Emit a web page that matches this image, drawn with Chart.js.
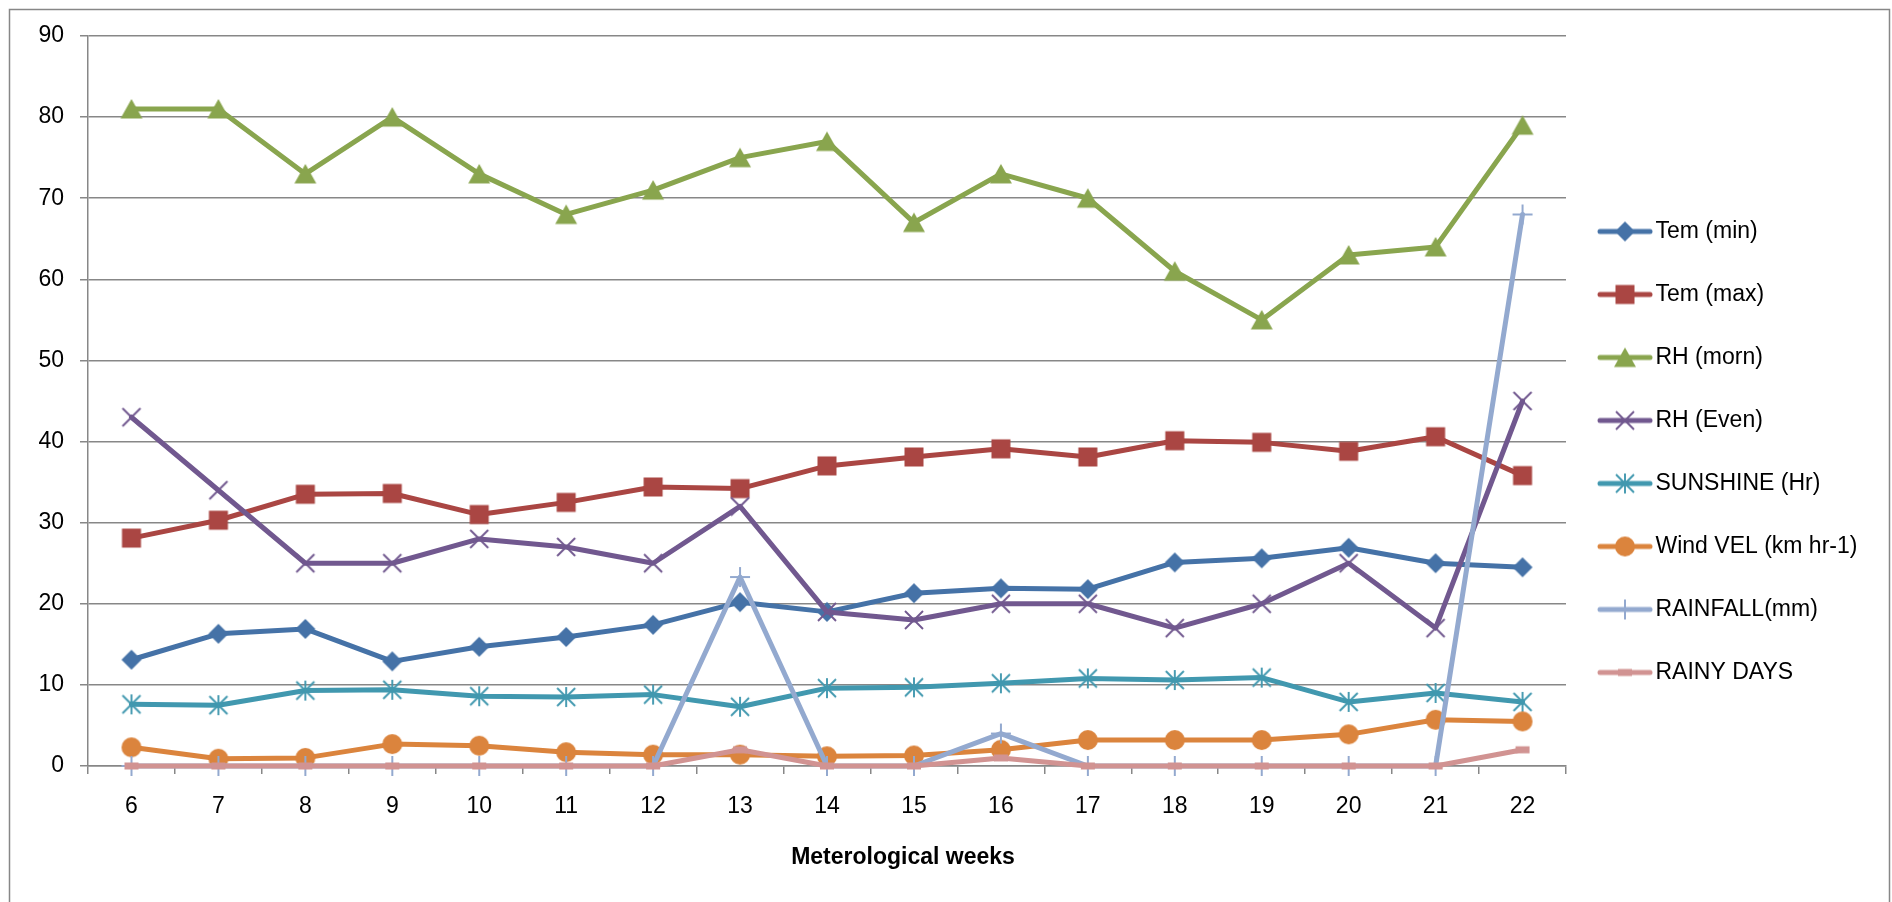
<!DOCTYPE html>
<html>
<head>
<meta charset="utf-8">
<title>Meteorological weeks</title>
<style>
  html, body { margin: 0; padding: 0; background: #ffffff; }
  #wrap { position: relative; width: 1892px; height: 902px; overflow: hidden; }
  canvas { display: block; }
</style>
<script src="https://cdn.jsdelivr.net/npm/chart.js@4.4.1/dist/chart.umd.min.js"></script>
</head>
<body>
<div id="wrap"><canvas id="chart" width="1892" height="902"></canvas></div>
<script>
// Meteorological weeks on the x axis
const weeks = ['6', '7', '8', '9', '10', '11', '12', '13', '14', '15', '16', '17', '18', '19', '20', '21', '22'];

// Weekly weather observations
const temMin   = [13.1, 16.3, 16.9, 12.9, 14.7, 15.9, 17.4, 20.2, 19.0, 21.3, 21.9, 21.8, 25.1, 25.6, 26.9, 25.0, 24.5];
const temMax   = [28.1, 30.3, 33.5, 33.6, 31.0, 32.5, 34.4, 34.2, 37.0, 38.1, 39.1, 38.1, 40.1, 39.9, 38.8, 40.6, 35.8];
const rhMorn   = [81, 81, 73, 80, 73, 68, 71, 75, 77, 67, 73, 70, 61, 55, 63, 64, 79];
const rhEven   = [43, 34, 25, 25, 28, 27, 25, 32, 19, 18, 20, 20, 17, 20, 25, 17, 45];
const sunshine = [7.6, 7.5, 9.3, 9.4, 8.6, 8.5, 8.8, 7.3, 9.6, 9.7, 10.2, 10.8, 10.6, 10.9, 7.9, 9.0, 7.9];
const windVel  = [2.3, 0.9, 1.0, 2.7, 2.5, 1.7, 1.4, 1.4, 1.2, 1.3, 2.0, 3.2, 3.2, 3.2, 3.9, 5.7, 5.5];
const rainfall = [0, 0, 0, 0, 0, 0, 0, 23.3, 0, 0, 4.0, 0, 0, 0, 0, 0, 68];
const rainyDays = [0, 0, 0, 0, 0, 0, 0, 2, 0, 0, 1, 0, 0, 0, 0, 0, 2];

// Series names and y axis range
const seriesNames = ['Tem (min)', 'Tem (max)', 'RH (morn)', 'RH (Even)', 'SUNSHINE (Hr)', 'Wind VEL (km hr-1)', 'RAINFALL(mm)', 'RAINY DAYS'];
const yMin = 0, yMax = 90, yStep = 10;
const xAxisTitle = 'Meterological weeks';

const FONT = '"Liberation Sans", Arial, sans-serif';
const GRID = '#878787';
const LINE_W = 5;

const seriesValues = [temMin, temMax, rhMorn, rhEven, sunshine, windVel, rainfall, rainyDays];
const seriesColors = ['#4572A7', '#AA4643', '#89A54E', '#71588F', '#4198AF', '#DB843D', '#93A9CF', '#D19392'];
const seriesMarkers = ['diamond', 'square', 'triangle', 'x', 'star', 'circle', 'plus', 'dash'];

// Office-style marker shapes
function drawMarker(g, kind, cx, cy, color) {
  g.save();
  g.fillStyle = color;
  g.strokeStyle = color;
  g.lineCap = 'butt';
  switch (kind) {
    case 'diamond':
      g.beginPath();
      g.moveTo(cx, cy - 10); g.lineTo(cx + 10, cy); g.lineTo(cx, cy + 10); g.lineTo(cx - 10, cy);
      g.closePath(); g.fill();
      break;
    case 'square':
      g.fillRect(cx - 9.5, cy - 9.5, 19, 19);
      break;
    case 'triangle':
      g.beginPath();
      g.moveTo(cx, cy - 10); g.lineTo(cx + 11, cy + 9.5); g.lineTo(cx - 11, cy + 9.5);
      g.closePath(); g.fill();
      break;
    case 'x':
      g.lineWidth = 1.9;
      g.beginPath();
      g.moveTo(cx - 9, cy - 9); g.lineTo(cx + 9, cy + 9);
      g.moveTo(cx + 9, cy - 9); g.lineTo(cx - 9, cy + 9);
      g.stroke();
      break;
    case 'star':
      g.lineWidth = 1.9;
      g.beginPath();
      g.moveTo(cx - 9, cy - 9); g.lineTo(cx + 9, cy + 9);
      g.moveTo(cx + 9, cy - 9); g.lineTo(cx - 9, cy + 9);
      g.moveTo(cx, cy - 10); g.lineTo(cx, cy + 10);
      g.stroke();
      break;
    case 'circle':
      g.beginPath();
      g.arc(cx, cy, 10, 0, Math.PI * 2);
      g.fill();
      break;
    case 'plus':
      g.lineWidth = 2;
      g.beginPath();
      g.moveTo(cx - 10, cy); g.lineTo(cx + 10, cy);
      g.moveTo(cx, cy - 10); g.lineTo(cx, cy + 10);
      g.stroke();
      break;
    case 'dash':
      g.fillRect(cx - 7, cy - 3.5, 14, 7);
      break;
  }
  g.restore();
}

function pointCanvas(kind, color) {
  const c = document.createElement('canvas');
  c.width = 26; c.height = 26;
  drawMarker(c.getContext('2d'), kind, 13, 13, color);
  return c;
}

function legendCanvas(kind, color) {
  const c = document.createElement('canvas');
  c.width = 56; c.height = 24;
  const g = c.getContext('2d');
  g.strokeStyle = color;
  g.lineWidth = LINE_W;
  g.lineCap = 'round';
  g.beginPath(); g.moveTo(3, 12); g.lineTo(53, 12); g.stroke();
  drawMarker(g, kind, 28, 12, color);
  return c;
}

const legendImages = seriesNames.map((_, i) => legendCanvas(seriesMarkers[i], seriesColors[i]));

const datasets = seriesNames.map((name, i) => ({
  label: name,
  data: seriesValues[i],
  borderColor: seriesColors[i],
  backgroundColor: seriesColors[i],
  borderWidth: LINE_W,
  borderJoinStyle: 'round',
  borderCapStyle: 'round',
  pointStyle: pointCanvas(seriesMarkers[i], seriesColors[i]),
  pointRadius: 10,
  pointHoverRadius: 10,
  tension: 0,
  clip: false,
  order: seriesNames.length - 1 - i
}));

// Outer frame of the chart object
const framePlugin = {
  id: 'frame',
  beforeDraw(chart) {
    const ctx = chart.ctx;
    ctx.save();
    ctx.fillStyle = '#ffffff';
    ctx.fillRect(0, 0, chart.width, chart.height);
    ctx.strokeStyle = GRID;
    ctx.lineWidth = 1.5;
    ctx.strokeRect(9.5, 9.5, 1880, 1000);
    ctx.restore();
  }
};

// Category axis caption, placed under the tick labels
const axisCaptionPlugin = {
  id: 'axisCaption',
  afterDraw(chart) {
    const ctx = chart.ctx;
    ctx.save();
    ctx.font = 'bold 23px ' + FONT;
    ctx.fillStyle = '#000000';
    ctx.textAlign = 'center';
    ctx.textBaseline = 'middle';
    ctx.fillText(xAxisTitle, 903, 858);
    ctx.restore();
  }
};

new Chart(document.getElementById('chart'), {
  type: 'line',
  data: { labels: weeks, datasets },
  plugins: [framePlugin, axisCaptionPlugin],
  options: {
    responsive: false,
    animation: false,
    events: [],
    layout: { padding: { top: 36, left: 0, right: 30, bottom: 34 } },
    scales: {
      x: {
        type: 'category',
        offset: true,
        grid: {
          display: true,
          drawOnChartArea: false,
          drawTicks: true,
          tickLength: 8,
          offset: true,
          color: GRID,
          lineWidth: 1.5
        },
        border: { display: true, color: GRID, width: 1.5 },
        ticks: {
          font: { family: FONT, size: 23 },
          color: '#000000',
          padding: 19,
          maxRotation: 0,
          autoSkip: false
        },
        afterFit(scale) { scale.height = 102; }
      },
      y: {
        min: yMin,
        max: yMax,
        grid: {
          color: GRID,
          lineWidth: 1.5,
          tickLength: 8,
          drawTicks: true
        },
        border: { display: true, color: GRID, width: 1.5 },
        ticks: {
          stepSize: yStep,
          font: { family: FONT, size: 23 },
          color: '#000000',
          padding: 16
        },
        afterFit(scale) { scale.width = 88; }
      }
    },
    plugins: {
      tooltip: { enabled: false },
      title: { display: false },
      legend: {
        display: true,
        position: 'right',
        align: 'center',
        maxWidth: 296,
        labels: {
          usePointStyle: true,
          pointStyleWidth: 38,
          padding: 40,
          color: '#000000',
          font: { family: FONT, size: 23 },
          generateLabels(chart) {
            return chart.data.datasets.map((ds, i) => ({
              text: ds.label,
              datasetIndex: i,
              fillStyle: ds.backgroundColor,
              strokeStyle: ds.borderColor,
              lineWidth: 0,
              hidden: false,
              pointStyle: legendImages[i],
              fontColor: '#000000'
            }));
          }
        }
      }
    }
  }
});
</script>
</body>
</html>
